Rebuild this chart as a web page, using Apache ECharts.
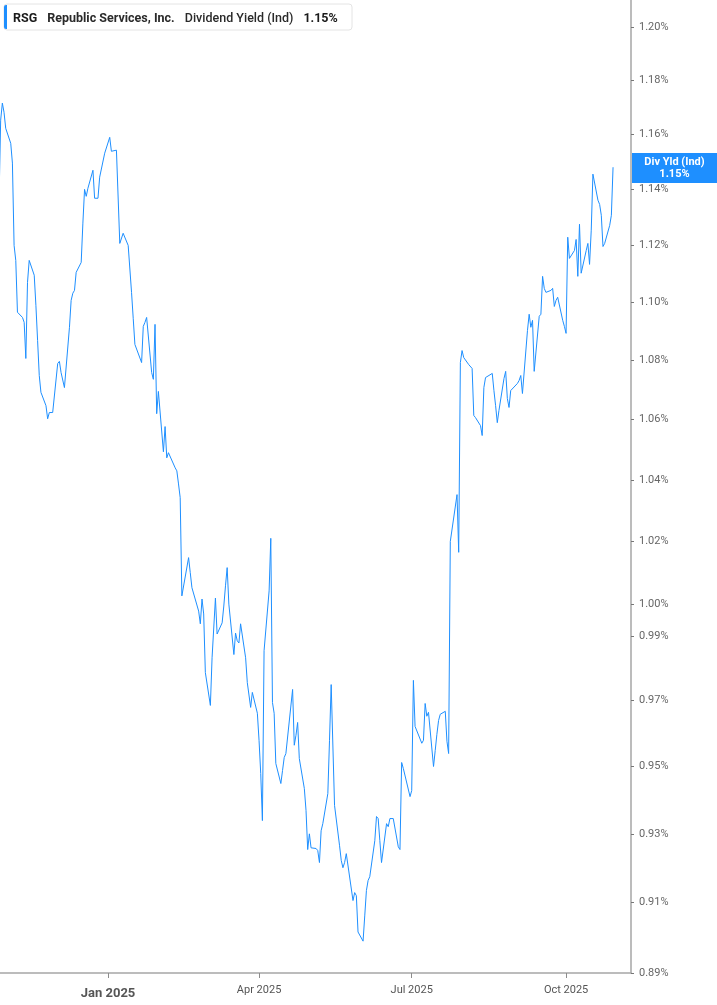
<!DOCTYPE html>
<html>
<head>
<meta charset="utf-8">
<title>RSG Dividend Yield</title>
<script src="https://cdn.jsdelivr.net/npm/echarts@6.0.0/dist/echarts.min.js"></script>
<style>
  html, body { margin: 0; padding: 0; background: #fff; }
  #chart { width: 717px; height: 1005px; }
</style>
</head>
<body>
<div id="chart"></div>
<script>
// trading days Oct 28 2024 .. Oct 29 2025, weekends and exchange holidays skipped
var startDay = '2024-10-28';
var endDay = '2025-10-29';
var holidays = ['2024-11-28', '2024-12-25', '2025-01-01', '2025-01-09', '2025-01-20', '2025-02-17',
  '2025-04-18', '2025-05-26', '2025-06-19', '2025-07-04', '2025-09-01'];

// dividend yield (ind), percent, one value per trading day (week by week)
var yieldVals = [
  1.1354, 1.1652, 1.1715, 1.1681, 1.1622,   // Oct 28
  1.1567, 1.1495, 1.1200, 1.1147, 1.0966,   // Nov 4
  1.0948, 1.0931, 1.0807, 1.1070, 1.1147,   // Nov 11
  1.1095, 1.0990, 1.0869, 1.0749, 1.0692,   // Nov 18
  1.0647, 1.0603, 1.0624, 1.0624,           // Nov 25
  1.0790, 1.0797, 1.0759, 1.0763, 1.0708,   // Dec 2
  1.0914, 1.1007, 1.1032, 1.1042, 1.1105,   // Dec 9
  1.1140, 1.1279, 1.1400, 1.1375, 1.1404,   // Dec 16
  1.1469, 1.1368, 1.1368, 1.1444,           // Dec 23
  1.1531, 1.1535, 1.1589, 1.1538,           // Dec 30
  1.1542, 1.1542, 1.1207, 1.1243,           // Jan 6
  1.1200, 1.1207, 1.1035, 1.0945, 1.0855,   // Jan 13
  1.0793, 1.0917, 1.0931, 1.0948,           // Jan 21
  1.0759, 1.0736, 1.0924, 1.0620, 1.0695,   // Jan 27
  1.0493, 1.0577, 1.0473, 1.0490, 1.0493,   // Feb 3
  1.0440, 1.0430, 1.0387, 1.0342, 1.0026,   // Feb 10
  1.0148, 1.0100, 1.0052, 1.0048,           // Feb 18
  0.9978, 0.9938, 1.0016, 0.9969, 0.9786,   // Feb 24
  0.9685, 0.9832, 0.9838, 1.0019, 0.9906,   // Mar 3
  0.9941, 0.9994, 1.0058, 1.0116, 1.0000,   // Mar 10
  0.9842, 0.9909, 0.9885, 0.9878, 0.9938,   // Mar 17
  0.9832, 0.9755, 0.9755, 0.9679, 0.9725,   // Mar 24
  0.9661, 0.9579, 0.9479, 0.9339, 0.9854,   // Mar 31
  1.0042, 1.0210, 0.9694, 0.9661, 0.9509,   // Apr 7
  0.9449, 0.9488, 0.9527, 0.9539,           // Apr 14
  0.9734, 0.9564, 0.9594, 0.9633, 0.9524,   // Apr 21
  0.9434, 0.9369, 0.9254, 0.9300, 0.9259,   // Apr 28
  0.9257, 0.9251, 0.9216, 0.9309, 0.9330,   // May 5
  0.9419, 0.9579, 0.9749, 0.9746, 0.9384,   // May 12
  0.9265, 0.9222, 0.9201, 0.9216, 0.9242,   // May 19
  0.9106, 0.9129, 0.9120, 0.9016,           // May 27
  0.8990, 0.9062, 0.9135, 0.9164, 0.9175,   // Jun 2
  0.9280, 0.9351, 0.9345, 0.9280, 0.9216,   // Jun 9
  0.9330, 0.9321, 0.9345, 0.9345,           // Jun 16
  0.9262, 0.9254, 0.9512, 0.9494, 0.9500,   // Jun 23
  0.9410, 0.9428, 0.9762, 0.9621,           // Jun 30
  0.9570, 0.9579, 0.9691, 0.9652, 0.9664,   // Jul 7
  0.9500, 0.9548, 0.9597, 0.9639, 0.9658,   // Jul 14
  0.9667, 0.9576, 0.9539, 1.0200, 1.0200,   // Jul 21
  1.0352, 1.0165, 1.0793, 1.0834, 1.0810,   // Jul 28
  1.0786, 1.0790, 1.0773, 1.0614, 1.0607,   // Aug 4
  1.0580, 1.0547, 1.0708, 1.0742, 1.0739,   // Aug 11
  1.0756, 1.0698, 1.0647, 1.0590, 1.0631,   // Aug 18
  1.0739, 1.0763, 1.0671, 1.0641, 1.0698,   // Aug 25
  1.0722, 1.0732, 1.0749, 1.0688,           // Sep 2
  1.0903, 1.0959, 1.0914, 1.0938, 1.0763,   // Sep 8
  1.0952, 1.0959, 1.1091, 1.1049, 1.1035,   // Sep 15
  1.1042, 1.1049, 1.0986, 1.1007, 1.1018,   // Sep 22
  1.0938, 1.0917, 1.0893, 1.1229, 1.1154,   // Sep 29
  1.1182, 1.1221, 1.1091, 1.1275, 1.1102,   // Oct 6
  1.1182, 1.1207, 1.1133, 1.1254, 1.1455,   // Oct 13
  1.1361, 1.1346, 1.1307, 1.1196, 1.1207,   // Oct 20
  1.1271, 1.1307, 1.1480                    // Oct 27
];

// right axis labels (log spaced)
var yTicks = [1.20, 1.18, 1.16, 1.14, 1.12, 1.10, 1.08, 1.06, 1.04, 1.02, 1.00, 0.99, 0.97, 0.95, 0.93, 0.91, 0.89];
var xTicks = ['2025-01-01', '2025-04-01', '2025-07-01', '2025-10-01'];
var monthNames = ['Jan', 'Feb', 'Mar', 'Apr', 'May', 'Jun', 'Jul', 'Aug', 'Sep', 'Oct', 'Nov', 'Dec'];

function toMs(s) {
  var p = s.split('-');
  return Date.UTC(+p[0], +p[1] - 1, +p[2]);
}

var DAY = 86400000;
var days = [];
for (var t = toMs(startDay); t <= toMs(endDay); t += DAY) {
  var d = new Date(t);
  var wd = d.getUTCDay();
  var iso = d.toISOString().slice(0, 10);
  if (wd == 0 || wd == 6) continue;
  if (holidays.indexOf(iso) != -1) continue;
  days.push(t);
}
if (days.length != yieldVals.length) {
  console.log('length mismatch', days.length, yieldVals.length);
}

// plotted on ln scale so the axis spacing matches the log chart
var lineData = [];
for (var i = 0; i < yieldVals.length && i < days.length; i++) {
  lineData.push([days[i], Math.log(yieldVals[i])]);
}
var lastVal = yieldVals[yieldVals.length - 1];
var blue = '#1e8fff';

var myChart = echarts.init(document.getElementById('chart'));
var option = {
  animation: false,
  backgroundColor: '#fff',
  title: {
    left: 13,
    top: 10,
    padding: 0,
    text: '{a|RSG}  {b|Republic Services, Inc.}  {c|Dividend Yield (Ind)}  {d|' + lastVal.toFixed(2) + '%}',
    textStyle: {
      fontSize: 18,
      rich: {
        a: { fontFamily: 'Roboto', fontSize: 12.5, fontWeight: 'bold', color: '#1b1b1b' },
        b: { fontFamily: 'Roboto', fontSize: 12.5, fontWeight: 'bold', color: '#2a2a2a' },
        c: { fontFamily: 'Roboto', fontSize: 12.5, fontWeight: 500, color: '#2a2a2a' },
        d: { fontFamily: 'Roboto', fontSize: 12.5, fontWeight: 'bold', color: '#1b1b1b' }
      }
    }
  },
  graphic: [
    {
      type: 'rect', z: -1,
      shape: { x: 4, y: 4, width: 348, height: 26, r: 3 },
      style: { fill: '#fff', stroke: '#e4e4e4', lineWidth: 1 }
    },
    {
      type: 'rect', z: 10,
      shape: { x: 4, y: 5, width: 3, height: 24, r: [2, 0, 0, 2] },
      style: { fill: blue }
    }
  ],
  grid: {
    left: 0,
    right: 86,
    top: 0,
    bottom: 32
  },
  xAxis: {
    type: 'value',
    min: toMs('2025-01-01') - 64.4 * DAY,
    max: toMs('2025-01-01') + 311.7 * DAY,
    axisLine: { show: true, onZero: false, lineStyle: { color: '#a6a6a6', width: 1.5 } },
    axisTick: {
      show: true,
      length: 5,
      customValues: xTicks.map(toMs),
      lineStyle: { color: '#8c8c8c' }
    },
    axisLabel: {
      customValues: xTicks.map(toMs),
      margin: 12,
      formatter: function(v) {
        var d = new Date(v);
        var m = d.getUTCMonth();
        var s = monthNames[m] + ' ' + d.getUTCFullYear();
        return m == 0 ? '{y|' + s + '}' : '{n|' + s + '}';
      },
      rich: {
        y: { fontFamily: 'Roboto', fontSize: 13, fontWeight: 'bold', color: '#555', padding: [2, 0, 0, 0] },
        n: { fontFamily: 'Roboto', fontSize: 11, color: '#555' }
      }
    },
    splitLine: { show: false }
  },
  yAxis: {
    type: 'value',
    position: 'right',
    min: Math.log(0.89),
    max: Math.log(0.89) + Math.log(1.20 / 0.89) * 973 / 946,
    axisLine: { show: true, onZero: false, lineStyle: { color: '#a6a6a6', width: 1.5 } },
    axisTick: {
      show: true,
      length: 3,
      customValues: yTicks.map(function(v) { return Math.log(v); }),
      lineStyle: { color: '#777' }
    },
    axisLabel: {
      customValues: yTicks.map(function(v) { return Math.log(v); }),
      margin: 8,
      fontFamily: 'Roboto',
      fontSize: 11,
      color: '#666',
      formatter: function(v) {
        return Math.exp(v).toFixed(2) + '%';
      }
    },
    splitLine: { show: false }
  },
  series: [{
    type: 'line',
    data: lineData,
    showSymbol: false,
    symbol: 'none',
    lineStyle: { color: blue, width: 1 },
    markLine: {
      silent: true,
      symbol: 'none',
      lineStyle: { color: 'rgba(0,0,0,0)', width: 1, type: 'solid' },
      data: [{ yAxis: Math.log(lastVal) }],
      label: {
        show: true,
        position: 'end',
        distance: 1,
        offset: [0, 7],
        verticalAlign: 'middle',
        formatter: '{t|Div Yld (Ind)}\n{t|' + lastVal.toFixed(2) + '%}',
        backgroundColor: blue,
        padding: [3, 6, 3, 6],
        rich: {
          t: {
            width: 73,
            align: 'center',
            color: '#fff',
            fontFamily: 'Roboto',
            fontWeight: 'bold',
            fontSize: 11,
            lineHeight: 12
          }
        }
      }
    }
  }]
};
myChart.setOption(option);
</script>
</body>
</html>
